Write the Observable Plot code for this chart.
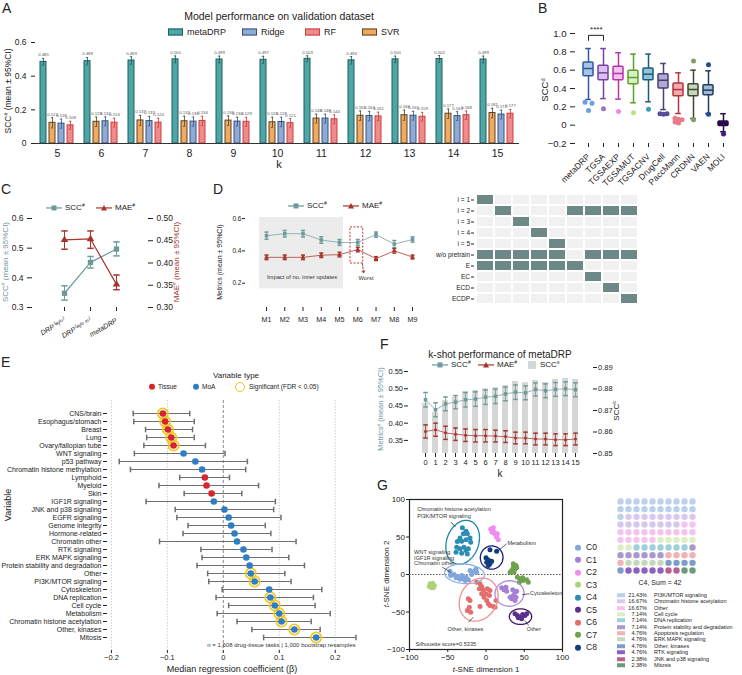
<!DOCTYPE html>
<html><head><meta charset="utf-8">
<script src="https://cdn.jsdelivr.net/npm/d3@7"></script>
<script src="https://cdn.jsdelivr.net/npm/@observablehq/plot@0.6"></script>
<style>
html,body{margin:0;padding:0;background:#fff;}
#root{position:relative;width:742px;height:675px;overflow:hidden;font-family:"Liberation Sans",Arial,Helvetica,sans-serif;color:#222;}
#root svg{overflow:visible;}
.t{position:absolute;white-space:nowrap;line-height:1;}
sup{font-size:62%;vertical-align:0.55em;line-height:0;}
</style></head><body><div id="root"></div>
<script>
// ================= DATA =================
// Panel A
const kA = [5,6,7,8,9,10,11,12,13,14,15];
const aModels = ["metaDRP","SVR","Ridge","RF"];
const aMetaDRP = [0.485,0.489,0.493,0.500,0.499,0.497,0.503,0.494,0.500,0.502,0.499];
const aMetaCI  = [0.020,0.022,0.022,0.020,0.020,0.021,0.018,0.022,0.019,0.020,0.020];
const aSVR     = [0.123,0.129,0.137,0.132,0.136,0.126,0.148,0.165,0.168,0.177,0.181];
const aSVRCI   = [0.030,0.028,0.030,0.030,0.028,0.030,0.026,0.028,0.030,0.028,0.028];
const aRidge   = [0.118,0.132,0.133,0.130,0.130,0.128,0.148,0.163,0.165,0.163,0.172];
const aRidgeCI = [0.027,0.026,0.028,0.027,0.026,0.028,0.026,0.028,0.026,0.026,0.026];
const aRF      = [0.108,0.124,0.124,0.134,0.129,0.121,0.144,0.161,0.159,0.168,0.177];
const aRFCI    = [0.024,0.026,0.026,0.028,0.027,0.027,0.026,0.025,0.026,0.025,0.025];

// Panel B
const bModels = ["metaDRP","TGSA","TGSAEXP","TGSAMUT","TGSACNV","DrugCell","PaccMann","CRDNN","VAEN","MOLI"];
const bWhiskerLow  = [0.280,0.290,0.284,0.244,0.255,0.170,0.127,0.073,0.127,-0.072];
const bQ1          = [0.535,0.490,0.490,0.447,0.490,0.400,0.316,0.316,0.327,-0.010];
const bMedian      = [0.618,0.571,0.564,0.520,0.556,0.490,0.389,0.389,0.382,0.012];
const bQ3          = [0.684,0.647,0.636,0.593,0.618,0.556,0.455,0.447,0.436,0.040];
const bWhiskerHigh = [0.836,0.836,0.790,0.775,0.775,0.673,0.571,0.600,0.593,0.125];
const bOutliers = [
  [[0.25,-1],[0.24,1],[0.16,0]],
  [[0.18,0]], [[0.15,0]], [[0.135,0]], [[0.175,0]],
  [[0.125,-1],[0.12,0],[0.125,1]],
  [[0.075,-1],[0.065,0],[0.06,1],[0.035,-1],[0.025,0]],
  [[0.70,0],[0.06,0]],
  [[0.66,0],[0.12,0]],
  [[-0.095,0]]
];
const bSigPair = ["metaDRP","TGSA"];
const bSigLabel = "****";

// Panel C
const cCats = ["DRP⁽ʷ/ᵒ⁾","DRP⁽ʷ/ᵒ ᵐ⁾","metaDRP"];
const cScc   = [0.348,0.452,0.497];
const cSccLo = [0.325,0.433,0.474];
const cSccHi = [0.373,0.472,0.521];
const cMae   = [0.452,0.454,0.352];
const cMaeLo = [0.431,0.433,0.340];
const cMaeHi = [0.472,0.472,0.373];

// Panel D
const dModels = [1,2,3,4,5,6,7,8,9];
const dScc    = [0.494,0.506,0.506,0.467,0.452,0.452,0.500,0.442,0.470];
const dSccErr = [0.022,0.020,0.020,0.020,0.018,0.018,0.016,0.022,0.016];
const dMae    = [0.360,0.360,0.360,0.373,0.377,0.408,0.352,0.400,0.362];
const dMaeErr = [0.014,0.014,0.014,0.014,0.014,0.014,0.012,0.014,0.012];
const hmRows = ["i = 1","i = 2","i = 3","i = 4","i = 5","w/o pretrain","E","EC","ECD","ECDP"];
const hmCols = ["M1","M2","M3","M4","M5","M6","M7","M8","M9"];
const hmOn = [[1],[2,6,7,8,9],[3],[4],[5],[1,2,3,4,5,7,8,9],[1,2,3,4,5,6],[7],[8],[9]];

// Panel E
const eVars = ["CNS/brain","Esophagus/stomach","Breast","Lung","Ovary/fallopian tube","WNT signaling","p53 pathway","Chromatin histone methylation","Lymphoid","Myeloid","Skin","IGF1R signaling","JNK and p38 signaling","EGFR signaling","Genome integrity","Hormone-related","Chromatin other","RTK signaling","ERK MAPK signaling","Protein stability and degradation","Other","PI3K/MTOR signaling","Cytoskeleton","DNA replication","Cell cycle","Metabolism","Chromatin histone acetylation","Other, kinases","Mitosis"];
const eType = ["Tissue","Tissue","Tissue","Tissue","Tissue","MoA","MoA","MoA","Tissue","Tissue","Tissue","MoA","MoA","MoA","MoA","MoA","MoA","MoA","MoA","MoA","MoA","MoA","MoA","MoA","MoA","MoA","MoA","MoA","MoA"];
const eEst = [-0.108,-0.104,-0.099,-0.093,-0.089,-0.071,-0.050,-0.038,-0.033,-0.030,-0.021,-0.017,0.002,0.0095,0.014,0.020,0.0245,0.036,0.041,0.047,0.049,0.056,0.082,0.084,0.092,0.100,0.104,0.127,0.166];
const eLo  = [-0.161,-0.160,-0.139,-0.137,-0.142,-0.159,-0.186,-0.166,-0.078,-0.115,-0.070,-0.138,-0.086,-0.083,-0.063,-0.072,-0.114,-0.040,-0.038,-0.047,-0.028,-0.026,-0.002,-0.013,0.0095,-0.011,0.0245,0.051,0.072];
const eHi  = [-0.060,-0.052,-0.055,-0.052,-0.032,0.003,0.043,0.040,0.011,0.063,0.033,0.093,0.090,0.103,0.075,0.085,0.130,0.087,0.117,0.145,0.110,0.121,0.176,0.161,0.164,0.191,0.157,0.173,0.237];
const eSig = [1,1,1,1,1,0,0,0,0,0,0,0,0,0,0,0,0,0,0,0,1,1,0,1,1,1,1,1,1];

// Panel F
const fK = [0,1,2,3,4,5,6,7,8,9,10,11,12,13,14,15];
const fScc    = [0.468,0.439,0.456,0.461,0.468,0.470,0.4755,0.478,0.485,0.490,0.488,0.498,0.494,0.498,0.500,0.497];
const fSccErr = [0.021,0.020,0.020,0.019,0.021,0.021,0.021,0.021,0.020,0.021,0.020,0.019,0.020,0.020,0.020,0.020];
const fMae    = [0.376,0.381,0.372,0.368,0.365,0.3635,0.3635,0.3625,0.361,0.357,0.357,0.354,0.354,0.352,0.352,0.354];
const fMaeErr = [0.019,0.019,0.019,0.018,0.018,0.018,0.018,0.017,0.017,0.017,0.017,0.017,0.017,0.017,0.017,0.017];
const fSccS   = [0.8734,0.8692,0.8746,0.8762,0.8788,0.8793,0.8801,0.8806,0.8816,0.8835,0.8829,0.8840,0.8830,0.8844,0.8849,0.8844];

// Panel G (t-SNE points per cluster)
const tsneC0 = [[-47.1,4.4],[-41.8,0],[-37.5,-2.7],[-31.8,-1.3],[-29.6,-5.8],[-26.1,-3.6],[-23.1,-7.1],[-34.0,-6.2],[-39.2,-4.4],[-18.7,0],[-15.2,4.4],[-12.2,3.1],[-13.1,7.5],[-20.9,5.3],[-27.4,-8.0],[-46.2,-1.3]];
const tsneC1 = [[20.5,-17.8],[23.5,-20.4],[26.1,-16.9],[27.0,-22.2],[34.9,-20.4],[37.9,-23.5],[40.1,-22.2],[35.7,-28.0],[33.5,-32.4],[37.9,-34.6],[31.4,-30.2],[39.2,-30.2]];
const tsneC2 = [[6.1,60.8],[8.7,58.6],[10.5,56.4],[11.8,54.2],[13.1,51.9],[13.9,49.7],[16.1,46.2],[9.6,62.2],[7.8,56.4],[14.8,54.2]];
const tsneC3 = [[-73.2,-12.4],[-69.7,-11.5],[-67.5,-14.7],[-71.0,-17.8],[-74.1,-16.0],[-68.8,-17.8]];
const tsneC4 = [[-30.9,62.2],[-26.1,57.7],[-24.4,54.2],[-29.6,54.2],[-34.0,48.8],[-37.5,44.0],[-31.8,44.4],[-26.1,46.2],[-20.9,48.8],[-20.0,43.1],[-38.3,36.4],[-34.0,34.2],[-28.8,36.4],[-26.1,32.0],[-23.1,34.2],[-39.2,29.7],[-31.8,28.4],[-24.4,27.5]];
const tsneC5 = [[37.9,-52.4],[41.0,-54.6],[44.4,-56.8],[47.9,-53.3],[51.0,-54.6],[53.2,-52.4],[46.6,-59.1],[42.3,-57.7]];
const tsneC6 = [[-12.2,-10.2],[-7.8,-12.4],[-5.7,-16.0],[-8.7,-19.1],[-3.5,-20.4],[-5.7,-25.8],[-2.6,-30.2],[0.9,-34.6],[3.0,-39.1],[5.2,-41.3],[9.6,-42.6],[11.8,-43.5],[1.7,-19.1],[0,-25.8],[-23.1,-32.4],[-20.9,-34.6],[-21.8,-43.5],[-24.4,-48.0],[-20.0,-50.2],[-7.8,-42.6],[5.2,-21.3],[4.4,-28.0],[13.1,-34.6]];
const tsneC7 = [[35.7,14.2],[39.2,12.0],[37.9,7.5],[33.5,5.3],[31.4,3.1],[36.6,3.1],[40.1,8.9],[35.7,9.8],[41.0,-3.6],[44.4,-5.8],[48.8,-8.0],[53.2,-7.1],[47.9,-4.4],[55.3,-10.2],[43.6,-10.2]];
const tsneC8 = [[5.2,32.9],[13.9,31.1],[0,22.2],[3.1,19.5],[0.9,16.4],[5.2,14.2],[3.1,12.0],[7.4,17.8]];
const gClusters = ["C0","C1","C2","C3","C4","C5","C6","C7","C8"];
const ellCluster = ["C4","C0","C8","C1","C5","C6"];
const ellCx = [-30.5,-28.1,7.4,30.7,45.1,-9.6];
const ellCy = [43.0,0.9,22.6,-25.3,-56.2,-33.5];
const ellA  = [30,26,15.5,19,14.6,30];
const ellB  = [21,13,14.8,17,10.4,24];
const ellAngle = [72,-4,80,5,0,62];
const gNoteText = ["Chromatin histone acetylation","PI3K/MTOR signaling","Metabolism","WNT signaling","IGF1R signaling","Chromatin other","Cytoskeleton","Other, kinases","Other","Silhouette score=0.5335"];

// Waffle (cluster C4 composition)
const wLabels = ["PI3K/MTOR signaling","Chromatin histone acetylation","Other","Cell cycle","DNA replication","Protein stability and degradation","Apoptosis regulation","ERK MAPK signaling","Other, kinases","RTK signaling","JNK and p38 signaling","Mitosis"];
const wPct = [21.43,16.67,16.67,7.14,7.14,7.14,4.76,4.76,4.76,4.76,2.38,2.38];
const wSum = 42;

// ================= STYLES =================
const FONT = '"Liberation Sans", Arial, Helvetica, sans-serif';
const S = fs => ({fontFamily: FONT, fontSize: fs + "px", background: "transparent", overflow: "visible", color: "#222"});
const fillA = {metaDRP:"#4fa6a7", SVR:"#f1aa5e", Ridge:"#8fabd4", RF:"#f08b8b"};
const strokeA = {metaDRP:"#1e5c60", SVR:"#5a4327", Ridge:"#33527f", RF:"#cc3e3e"};
const bStroke = ["#2c5aa0","#7b3fa8","#b434a8","#5ca02c","#1d5b78","#4b3b7b","#b8323c","#3c4a33","#1f3d5e","#2a0b4a"];
const bFill   = ["#a8c3ea","#d6c2ea","#f3c3ef","#d8eec3","#8ec5d8","#b3a8cf","#f2aaae","#c8d6bb","#9fb9d6","#2a0b4a"];
const bOutCol = ["#6b9ee0","#9a73cc","#ee86e4","#b9e08e","#3d9bbd","#5b4b9b","#e77b88","#7fa066","#1f4f90","#4b1a85"];
const TEAL = "#6d9a99", RED = "#a5342b";
const gColors = {C0:"#7fa7df",C1:"#a57fd6",C2:"#ef8cef",C3:"#a9d57a",C4:"#2b8db3",C5:"#5b2e8f",C6:"#e26d6d",C7:"#6ea24c",C8:"#0f3d7d"};
const ellColor = {C4:"#1b86a6",C0:"#8db0e4",C8:"#141e7a",C1:"#a88bd9",C5:"#3c1463",C6:"#f39090"};
const wColors = ["#bcd0ee","#d8c8ee","#f4c4f0","#dcefc4","#9ecfdc","#a898cc","#f0b4b4","#c4d8bc","#7d9cc8","#8c60c0","#b86090","#6a9a78"];
const hcap = {draw(ctx, size){const r = Math.sqrt(size/Math.PI); ctx.moveTo(-r,0); ctx.lineTo(r,0);}};
const vcap = {draw(ctx, size){const r = Math.sqrt(size/Math.PI); ctx.moveTo(0,-r); ctx.lineTo(0,r);}};
const fmtMinus = d => d === 0 ? "0" : (d < 0 ? "−" : "") + Math.abs(d).toFixed(1);

// ================= HELPERS =================
const root = document.getElementById("root");
function mount(svg, left, top){ svg.style.position="absolute"; svg.style.left=left+"px"; svg.style.top=top+"px"; root.appendChild(svg); return svg; }
function txt(html, x, y, o={}){
  const d = document.createElement("div"); d.className = "t"; d.innerHTML = html;
  d.style.fontSize = (o.size || 9) + "px";
  if (o.color) d.style.color = o.color;
  if (o.italic) d.style.fontStyle = "italic";
  d.style.left = x + "px"; d.style.top = y + "px";
  const tx = o.anchor === "middle" ? "-50%" : o.anchor === "end" ? "-100%" : "0";
  d.style.transform = `translate(${tx},-50%)` + (o.rotate ? ` rotate(${o.rotate}deg)` : "");
  root.appendChild(d); return d;
}
const rectSw = (f, s, w, h, mr=4) => `<span style="display:inline-block;width:${w}px;height:${h}px;background:${f};border:1px solid ${s};vertical-align:middle;margin-right:${mr}px"></span>`;
const dotSw = (c, d, mr=3) => `<span style="display:inline-block;width:${d}px;height:${d}px;border-radius:50%;background:${c};vertical-align:middle;margin-right:${mr}px"></span>`;
const lineSw = (c, shape, w=16) => {
  const m = shape === "square" ? `<rect x="${w/2-2.5}" y="1.5" width="5" height="5" fill="${c}"/>` :
            shape === "tri" ? `<path d="M${w/2},1 L${w/2+3},6.5 L${w/2-3},6.5 Z" fill="${c}"/>` : "";
  return `<svg width="${w}" height="8" style="vertical-align:middle;margin-right:3px"><line x1="0" y1="4" x2="${w}" y2="4" stroke="${c}" stroke-width="1.2"/>${m}</svg>`;
};
const sup = s => `<sup>${s}</sup>`;

// ================= PANEL A =================
const rowsA = [];
kA.forEach((k,i) => {
  rowsA.push({k, model:"metaDRP", v:aMetaDRP[i], ci:aMetaCI[i]});
  rowsA.push({k, model:"SVR", v:aSVR[i], ci:aSVRCI[i]});
  rowsA.push({k, model:"Ridge", v:aRidge[i], ci:aRidgeCI[i]});
  rowsA.push({k, model:"RF", v:aRF[i], ci:aRFCI[i]});
});
mount(Plot.plot({
  width:530, height:140, marginLeft:30, marginRight:7, marginTop:7, marginBottom:32,
  style:S(9),
  fx:{domain:kA, padding:0},
  x:{domain:aModels, paddingInner:0.28, paddingOuter:0.45, axis:null},
  y:{domain:[0,0.6]},
  color:{type:"identity"},
  marks:[
    Plot.axisY({ticks:[0,0.2,0.4,0.6], tickFormat:d=>d===0?"0":d.toFixed(1), tickSize:4, fontSize:8.5, line:true, label:null}),
    Plot.axisFx({anchor:"bottom", tickSize:0, tickPadding:6, fontSize:10.5, label:null}),
    Plot.barY(rowsA, {fx:"k", x:"model", y:"v", fill:d=>fillA[d.model], stroke:d=>strokeA[d.model], strokeWidth:1}),
    Plot.ruleX(rowsA, {fx:"k", x:"model", y1:d=>d.v-d.ci, y2:d=>d.v+d.ci, stroke:d=>strokeA[d.model], strokeWidth:0.8}),
    Plot.tickY(rowsA, {fx:"k", x:"model", y:d=>d.v+d.ci, stroke:d=>strokeA[d.model], strokeWidth:0.8, insetLeft:1.8, insetRight:1.8}),
    Plot.tickY(rowsA, {fx:"k", x:"model", y:d=>d.v-d.ci, stroke:d=>strokeA[d.model], strokeWidth:0.8, insetLeft:1.8, insetRight:1.8}),
    Plot.text(rowsA, {fx:"k", x:"model", y:d=>d.v+d.ci, text:d=>d.v.toFixed(3), dy:-2, lineAnchor:"bottom", fontSize:4.3, fill:"#555"}),
    Plot.ruleY([0], {stroke:"#333"})
  ]
}), 0, 35);
txt("A", 2, 8, {size:14});
txt("Model performance on validation dataset", 279, 16, {size:10.5, anchor:"middle"});
txt(rectSw(fillA.metaDRP, strokeA.metaDRP, 13, 5) + "metaDRP", 168, 32, {size:9});
txt(rectSw(fillA.Ridge, strokeA.Ridge, 13, 5) + "Ridge", 242, 32, {size:9});
txt(rectSw(fillA.RF, strokeA.RF, 13, 5) + "RF", 305, 32, {size:9});
txt(rectSw(fillA.SVR, strokeA.SVR, 13, 5) + "SVR", 362, 32, {size:9});
txt("SCC" + sup("#") + " (mean ± 95%CI)", 8, 91, {size:8.5, anchor:"middle", rotate:-90});
txt("k", 279, 164, {size:11, anchor:"middle"});

// ================= PANEL B =================
const bRows = bModels.map((m,i) => ({m, lo:bWhiskerLow[i], q1:bQ1[i], med:bMedian[i], q3:bQ3[i], hi:bWhiskerHigh[i], s:bStroke[i], f:bFill[i]}));
const bOut = [];
bOutliers.forEach((arr,i) => arr.forEach(([v,o]) => bOut.push({m:bModels[i], v, o, c:bOutCol[i]})));
const bBracket = [{m:bSigPair[0], v:0.925},{m:bSigPair[0], v:0.98},{m:bSigPair[1], v:0.98},{m:bSigPair[1], v:0.925}];
mount(Plot.plot({
  width:212, height:155, marginLeft:45, marginRight:6, marginTop:13, marginBottom:32,
  style:S(9),
  x:{domain:bModels, padding:0.34},
  y:{domain:[-0.2,1.0]},
  color:{type:"identity"},
  marks:[
    Plot.axisY({ticks:[-0.2,0,0.2,0.4,0.6,0.8,1.0], tickFormat:fmtMinus, tickSize:5, fontSize:9.5, line:true, label:null}),
    Plot.axisX({tickRotate:-45, tickSize:4, fontSize:8.5, line:true, label:null}),
    Plot.ruleX(bRows, {x:"m", y1:"lo", y2:"q1", stroke:"s", strokeWidth:1.5}),
    Plot.ruleX(bRows, {x:"m", y1:"q3", y2:"hi", stroke:"s", strokeWidth:1.5}),
    Plot.tickY(bRows, {x:"m", y:"lo", stroke:"s", strokeWidth:1.5, insetLeft:2.2, insetRight:2.2}),
    Plot.tickY(bRows, {x:"m", y:"hi", stroke:"s", strokeWidth:1.5, insetLeft:2.2, insetRight:2.2}),
    Plot.barY(bRows, {x:"m", y1:"q1", y2:"q3", fill:"f", stroke:"s", strokeWidth:1.5, rx:1}),
    Plot.tickY(bRows, {x:"m", y:"med", stroke:"s", strokeWidth:1.5}),
    Plot.dot(bOut.filter(d=>d.o===-1), {x:"m", y:"v", r:2.5, fill:"c", dx:-3.5}),
    Plot.dot(bOut.filter(d=>d.o===0), {x:"m", y:"v", r:2.5, fill:"c"}),
    Plot.dot(bOut.filter(d=>d.o===1), {x:"m", y:"v", r:2.5, fill:"c", dx:3.5}),
    Plot.line(bBracket, {x:"m", y:"v", stroke:"#222", strokeWidth:1}),
    Plot.text([bSigLabel], {x:()=>bSigPair[0], y:()=>0.98, dx:7.8, dy:-3, lineAnchor:"bottom", fontSize:8, fill:"#222"})
  ]
}), 530, 20);
txt("B", 538, 8, {size:14});
txt("SCC" + sup("d"), 545, 90, {size:9.5, anchor:"middle", rotate:-90});

// ================= PANEL C =================
const cRows = cCats.map((c,i) => ({c, s:cScc[i], sl:cSccLo[i], sh:cSccHi[i], m:cMae[i], ml:cMaeLo[i], mh:cMaeHi[i]}));
const cBase = {width:210, height:140, marginLeft:32, marginRight:63, marginTop:18, marginBottom:33, style:S(8.5)};
mount(Plot.plot({...cBase,
  x:{type:"point", domain:cCats, padding:1.15},
  y:{domain:[0.3,0.6]},
  marks:[
    Plot.axisY({ticks:[0.3,0.4,0.5,0.6], tickFormat:d=>d.toFixed(1), tickSize:5, fontSize:8.5, line:true, label:null}),
    Plot.axisX({tickRotate:-30, tickSize:4, fontSize:7, fontStyle:"italic", line:true, label:null}),
    Plot.ruleX(cRows, {x:"c", y1:"sl", y2:"sh", stroke:TEAL}),
    Plot.dot(cRows, {x:"c", y:"sl", symbol:hcap, r:3.2, stroke:TEAL, fill:"none"}),
    Plot.dot(cRows, {x:"c", y:"sh", symbol:hcap, r:3.2, stroke:TEAL, fill:"none"}),
    Plot.line(cRows, {x:"c", y:"s", stroke:TEAL, strokeWidth:1.2}),
    Plot.dot(cRows, {x:"c", y:"s", symbol:"square", r:3, fill:TEAL})
  ]
}), 0, 200);
mount(Plot.plot({...cBase,
  x:{type:"point", domain:cCats, padding:1.15, axis:null},
  y:{domain:[0.3,0.5]},
  marks:[
    Plot.axisY({anchor:"right", ticks:[0.30,0.35,0.40,0.45,0.50], tickFormat:d=>d.toFixed(2), tickSize:5, fontSize:8.5, line:true, label:null}),
    Plot.ruleX(cRows, {x:"c", y1:"ml", y2:"mh", stroke:RED}),
    Plot.dot(cRows, {x:"c", y:"ml", symbol:hcap, r:3.2, stroke:RED, fill:"none"}),
    Plot.dot(cRows, {x:"c", y:"mh", symbol:hcap, r:3.2, stroke:RED, fill:"none"}),
    Plot.line(cRows, {x:"c", y:"m", stroke:RED, strokeWidth:1.2}),
    Plot.dot(cRows, {x:"c", y:"m", symbol:"triangle", r:2.8, fill:RED})
  ]
}), 0, 200);
txt("C", 1, 189, {size:14});
txt(lineSw(TEAL,"square") + "SCC" + sup("#"), 46, 208, {size:8});
txt(lineSw(RED,"tri") + "MAE" + sup("#"), 96, 208, {size:8});
txt("SCC" + sup("#") + " (mean ± 95%CI)", 6, 262, {size:8, anchor:"middle", rotate:-90, color:TEAL});
txt("MAE" + sup("#") + " (mean ± 95%CI)", 177, 262, {size:8, anchor:"middle", rotate:-90, color:RED});

// ================= PANEL D =================
const dRows = dModels.map((m,i) => ({m, s:dScc[i], se:dSccErr[i], a:dMae[i], ae:dMaeErr[i]}));
const dImpactBox = [{x1:0.62, x2:5.22, y1:0.165, y2:0.606}];
const dWorstBox = [{x1:5.6, x2:6.3, y1:0.322, y2:0.545}];
const dWorstArrow = [{x1:6.25, y1:0.322, x2:6.32, y2:0.262}];
mount(Plot.plot({
  width:215, height:125, marginLeft:30, marginRight:7, marginTop:23, marginBottom:13,
  style:S(7),
  x:{domain:[-0.15,9.6]},
  y:{domain:[0.05,0.6]},
  marks:[
    Plot.rect(dImpactBox, {x1:"x1", x2:"x2", y1:"y1", y2:"y2", fill:"#ececec"}),
    Plot.axisY({ticks:[0.2,0.4,0.6], tickFormat:d=>d.toFixed(1), tickSize:3, tickPadding:1, fontSize:6.5, line:true, label:null}),
    Plot.axisX({ticks:dModels, tickFormat:d=>"M"+d, tickSize:4, fontSize:7.2, line:true, label:null}),
    Plot.text(["Impact of no. inner updates"], {x:()=>2.95, y:()=>0.235, fontSize:5.8, fill:"#333"}),
    Plot.rect(dWorstBox, {x1:"x1", x2:"x2", y1:"y1", y2:"y2", fill:"none", stroke:"#b0392b", strokeDasharray:"2,1.5"}),
    Plot.arrow(dWorstArrow, {x1:"x1", y1:"y1", x2:"x2", y2:"y2", stroke:"#b0392b", strokeDasharray:"2,1.5", headLength:4, strokeWidth:1}),
    Plot.text(["Worst"], {x:()=>6.45, y:()=>0.232, fontSize:5.8, fill:"#333"}),
    Plot.ruleX(dRows, {x:"m", y1:d=>d.s-d.se, y2:d=>d.s+d.se, stroke:TEAL, strokeWidth:0.8}),
    Plot.dot(dRows, {x:"m", y:d=>d.s-d.se, symbol:hcap, r:2, stroke:TEAL, fill:"none"}),
    Plot.dot(dRows, {x:"m", y:d=>d.s+d.se, symbol:hcap, r:2, stroke:TEAL, fill:"none"}),
    Plot.line(dRows, {x:"m", y:"s", stroke:"#93b5b4", strokeWidth:1}),
    Plot.dot(dRows, {x:"m", y:"s", symbol:"square", r:2, fill:TEAL}),
    Plot.ruleX(dRows, {x:"m", y1:d=>d.a-d.ae, y2:d=>d.a+d.ae, stroke:RED, strokeWidth:0.8}),
    Plot.dot(dRows, {x:"m", y:d=>d.a-d.ae, symbol:hcap, r:2, stroke:RED, fill:"none"}),
    Plot.dot(dRows, {x:"m", y:d=>d.a+d.ae, symbol:hcap, r:2, stroke:RED, fill:"none"}),
    Plot.line(dRows, {x:"m", y:"a", stroke:"#c0605a", strokeWidth:1}),
    Plot.dot(dRows, {x:"m", y:"a", symbol:"triangle", r:1.8, fill:RED})
  ]
}), 215, 195);
txt("D", 213, 189, {size:14});
txt(lineSw(TEAL,"square") + "SCC" + sup("#"), 288, 206, {size:8});
txt(lineSw(RED,"tri") + "MAE" + sup("#"), 343, 206, {size:8});
txt("Metrics (mean ± 95%CI)", 219, 262, {size:7, anchor:"middle", rotate:-90});

// heatmap
const hmCells = [];
hmRows.forEach((r,i) => hmCols.forEach((c,j) => hmCells.push({r, c, on: hmOn[i].includes(j+1)})));
mount(Plot.plot({
  width:215, height:120, marginLeft:44, marginRight:6, marginTop:1, marginBottom:3,
  style:S(6.5),
  x:{domain:hmCols, padding:0, axis:null},
  y:{domain:hmRows, padding:0},
  color:{type:"identity"},
  marks:[
    Plot.cell(hmCells, {x:"c", y:"r", fill:d=>d.on?"#6c8988":"#f1f1f1", inset:1}),
    Plot.axisY({tickSize:3, tickPadding:1.5, fontSize:6.5, label:null})
  ]
}), 430, 190);

// ================= PANEL E =================
const eRows = eVars.map((v,i) => ({v, t:eType[i], est:eEst[i], lo:eLo[i], hi:eHi[i], sig:eSig[i]}));
const eNote = "n = 1,608 drug-tissue tasks | 1,000 bootstrap resamples";
mount(Plot.plot({
  width:362, height:265, marginLeft:107, marginRight:6, marginTop:5, marginBottom:10,
  style:S(7),
  x:{domain:[-0.207,0.238]},
  y:{type:"point", domain:eVars, padding:1.1},
  color:{type:"identity"},
  marks:[
    Plot.ruleX([-0.2,-0.1,0.1,0.2], {stroke:"#cfcfcf", strokeDasharray:"1.5,1.5"}),
    Plot.ruleX([0], {stroke:"#8a8a8a", strokeDasharray:"3,2"}),
    Plot.axisY({tickSize:4, tickPadding:2, fontSize:7, line:true, label:null}),
    Plot.axisX({ticks:[-0.2,-0.1,0,0.1,0.2], tickFormat:fmtMinus, tickSize:3, tickPadding:1, fontSize:7.5, line:true, label:null}),
    Plot.ruleY(eRows, {y:"v", x1:"lo", x2:"hi", stroke:"#6e6e6e", strokeWidth:1}),
    Plot.dot(eRows, {x:"lo", y:"v", symbol:vcap, r:2.8, stroke:"#6e6e6e", fill:"none"}),
    Plot.dot(eRows, {x:"hi", y:"v", symbol:vcap, r:2.8, stroke:"#6e6e6e", fill:"none"}),
    Plot.dot(eRows.filter(d=>d.sig), {x:"est", y:"v", r:5.2, stroke:"#f5c518", strokeWidth:1.6, fill:"none"}),
    Plot.dot(eRows, {x:"est", y:"v", r:3.3, fill:d=>d.t==="Tissue"?"#d7262b":"#2f7dc2"}),
    Plot.text([eNote], {frameAnchor:"bottom-right", dx:-1, dy:-4, fontSize:6, fill:"#333"})
  ]
}), 0, 395);
txt("E", 1, 362, {size:14});
txt("Variable type", 236, 376, {size:8, anchor:"middle"});
txt(dotSw("#d7262b",6,3) + "Tissue", 149, 387, {size:6.5});
txt(dotSw("#2f7dc2",6,3) + "MoA", 193, 387, {size:6.5});
txt(`<span style="display:inline-block;width:8px;height:8px;border:1.4px solid #f5c518;border-radius:50%;vertical-align:middle;margin-right:4px"></span>Significant (FDR &lt; 0.05)`, 235, 387, {size:6.5});
txt("Variable", 8, 505, {size:9, anchor:"middle", rotate:-90});
txt("Median regression coefficient (β)", 232, 669, {size:9, anchor:"middle"});

// ================= PANEL F =================
const fRows = fK.map((k,i) => ({k, s:fScc[i], se:fSccErr[i], a:fMae[i], ae:fMaeErr[i], ss:fSccS[i]}));
const fBase = {width:260, height:110, marginLeft:48, marginRight:28, marginTop:7, marginBottom:17, style:S(7.5)};
const fX = {type:"band", domain:fK, paddingInner:0.4, paddingOuter:1.235};
mount(Plot.plot({...fBase,
  x:{...fX, axis:null},
  y:{domain:[0.85,0.89]},
  marks:[
    Plot.barY(fRows, {x:"k", y1:0.85, y2:"ss", fill:"#d6d6d6"}),
    Plot.axisY({anchor:"right", ticks:[0.85,0.86,0.87,0.88,0.89], tickFormat:d=>d.toFixed(2), tickSize:4, tickPadding:1.5, fontSize:7.5, line:true, label:null})
  ]
}), 360, 360);
mount(Plot.plot({...fBase,
  x:fX,
  y:{domain:[0.312,0.5616]},
  marks:[
    Plot.axisY({ticks:[0.35,0.40,0.45,0.50,0.55], tickFormat:d=>d.toFixed(2), tickSize:4, tickPadding:1.5, fontSize:7.5, line:true, label:null}),
    Plot.axisX({tickSize:4, tickPadding:2, fontSize:7.5, line:true, label:null}),
    Plot.ruleX(fRows, {x:"k", y1:d=>d.s-d.se, y2:d=>d.s+d.se, stroke:TEAL, strokeWidth:0.8}),
    Plot.dot(fRows, {x:"k", y:d=>d.s-d.se, symbol:hcap, r:2.3, stroke:TEAL, fill:"none"}),
    Plot.dot(fRows, {x:"k", y:d=>d.s+d.se, symbol:hcap, r:2.3, stroke:TEAL, fill:"none"}),
    Plot.line(fRows, {x:"k", y:"s", stroke:"#93b5b4", strokeWidth:1}),
    Plot.dot(fRows, {x:"k", y:"s", symbol:"square", r:2, fill:TEAL}),
    Plot.ruleX(fRows, {x:"k", y1:d=>d.a-d.ae, y2:d=>d.a+d.ae, stroke:RED, strokeWidth:0.8}),
    Plot.dot(fRows, {x:"k", y:d=>d.a-d.ae, symbol:hcap, r:2.3, stroke:RED, fill:"none"}),
    Plot.dot(fRows, {x:"k", y:d=>d.a+d.ae, symbol:hcap, r:2.3, stroke:RED, fill:"none"}),
    Plot.line(fRows, {x:"k", y:"a", stroke:"#c0605a", strokeWidth:1}),
    Plot.dot(fRows, {x:"k", y:"a", r:1.5, fill:RED})
  ]
}), 360, 360);
txt("F", 380, 344, {size:14});
txt("k-shot performance of metaDRP", 500, 355, {size:10, anchor:"middle"});
txt(lineSw(TEAL,"square") + "SCC" + sup("#"), 432, 365, {size:8});
txt(lineSw(RED,"tri") + "MAE" + sup("#"), 478, 365, {size:8});
txt(`<span style="display:inline-block;width:8px;height:8px;background:#d6d6d6;vertical-align:middle;margin-right:4px"></span>SCC` + sup("s"), 528, 365, {size:8});
txt("Metrics" + sup("#") + " (mean ± 95%CI)", 381, 409, {size:7.5, anchor:"middle", rotate:-90, color:TEAL});
txt("SCC" + sup("s"), 617, 411, {size:8, anchor:"middle", rotate:-90});
txt("k", 500, 474, {size:10, anchor:"middle"});

// ================= PANEL G =================
const tsneAll = {C0:tsneC0,C1:tsneC1,C2:tsneC2,C3:tsneC3,C4:tsneC4,C5:tsneC5,C6:tsneC6,C7:tsneC7,C8:tsneC8};
const gPts = [];
gClusters.forEach(c => tsneAll[c].forEach(([x,y]) => gPts.push({x, y, c:gColors[c]})));
const ellPts = [];
ellCluster.forEach((c,i) => {
  const th = ellAngle[i]*Math.PI/180;
  d3.range(0, 2*Math.PI, Math.PI/40).forEach(t => {
    const u = ellA[i]*Math.cos(t), v = ellB[i]*Math.sin(t);
    ellPts.push({id:c, col:ellColor[c], x: ellCx[i] + u*Math.cos(th) - v*Math.sin(th), y: ellCy[i] + u*Math.sin(th) + v*Math.cos(th)});
  });
});
const gNotes = [
  {t:gNoteText[0], x:-90, y:86.7, a:"start"},
  {t:gNoteText[1], x:-90, y:77.5, a:"start"},
  {t:gNoteText[2], x:28, y:41.8, a:"start"},
  {t:gNoteText[3], x:-94, y:29.7, a:"start"},
  {t:gNoteText[4], x:-94, y:22.2, a:"start"},
  {t:gNoteText[5], x:-94, y:15.1, a:"start"},
  {t:gNoteText[6], x:57.5, y:-25, a:"start"},
  {t:gNoteText[7], x:-26.8, y:-72.4, a:"middle"},
  {t:gNoteText[8], x:62.5, y:-72.4, a:"middle"},
  {t:gNoteText[9], x:-92, y:-93.3, a:"start"}
];
const gLinks = [
  {x1:-45.5,y1:69.8,x2:-39.9,y2:63.1},
  {x1:26.8,y1:40.9,x2:15.4,y2:31.1},
  {x1:-57.3,y1:9.8,x2:-46.4,y2:3.1},
  {x1:56.9,y1:-25.8,x2:47.3,y2:-26.7},
  {x1:-22.5,y1:-63.6,x2:-16.7,y2:-56.9},
  {x1:56,y1:-68,x2:50.3,y2:-61.3}
];
mount(Plot.plot({
  width:190, height:170, marginLeft:29, marginRight:8, marginTop:9, marginBottom:11,
  style:S(8),
  x:{domain:[-100,100]},
  y:{domain:[-100,100]},
  color:{type:"identity"},
  marks:[
    Plot.frame({stroke:"#222", strokeWidth:1.2}),
    Plot.ruleY([0], {stroke:"#555", strokeDasharray:"1.5,1.5"}),
    Plot.axisX({ticks:[-100,-50,0,50,100], tickSize:3, tickPadding:1.5, fontSize:8, label:null}),
    Plot.axisY({ticks:[-100,-50,0,50,100], tickSize:3, tickPadding:1.5, fontSize:8, label:null}),
    Plot.dot(gPts, {x:"x", y:"y", r:2.5, fill:"c"}),
    Plot.line(ellPts, {x:"x", y:"y", z:"id", stroke:"col", strokeWidth:1.3, curve:"linear-closed"}),
    Plot.link(gLinks, {x1:"x1", y1:"y1", x2:"x2", y2:"y2", stroke:"#222", strokeWidth:0.7}),
    Plot.text(gNotes.filter(d=>d.a==="start"), {x:"x", y:"y", text:"t", textAnchor:"start", fontSize:5.6, fill:"#333"}),
    Plot.text(gNotes.filter(d=>d.a==="middle"), {x:"x", y:"y", text:"t", textAnchor:"middle", fontSize:5.6, fill:"#333"})
  ]
}), 380, 490);
txt("G", 377, 485, {size:14});
txt("<i>t</i>-SNE dimension 1", 486, 670, {size:8, anchor:"middle"});
txt("<i>t</i>-SNE dimension 2", 387, 574, {size:8, anchor:"middle", rotate:-90});
gClusters.forEach((c,i) => txt(dotSw(gColors[c],6,5) + c, 575, 547 + i*12.5, {size:8.5}));

// waffle
const wCells = [];
let wIdx = 0;
wLabels.forEach((lab,i) => { const n = Math.round(wPct[i]); for (let j=0;j<n;j++){ wCells.push({col:wIdx%10, row:Math.floor(wIdx/10), c:wColors[i]}); wIdx++; } });
mount(Plot.plot({
  width:92, height:80, marginLeft:8, marginRight:12, marginTop:6, marginBottom:5,
  style:S(6),
  x:{domain:[0,9], axis:null},
  y:{domain:[0,9], reverse:true, axis:null},
  color:{type:"identity"},
  marks:[Plot.dot(wCells, {x:"col", y:"row", r:3.2, fill:"c"})]
}), 612, 495);
txt(`C4, Sum = ${wSum}`, 660, 582, {size:7, anchor:"middle"});
wLabels.forEach((lab,i) => {
  const y = 596 + i*6.35;
  txt(`<span style="display:inline-block;width:8px;height:4px;background:${wColors[i]}"></span>`, 617, y, {size:5.5});
  txt(wPct[i].toFixed(2) + "%", 647, y, {size:5.5, anchor:"end"});
  txt(lab, 654, y, {size:5.5});
});
</script></body></html>
